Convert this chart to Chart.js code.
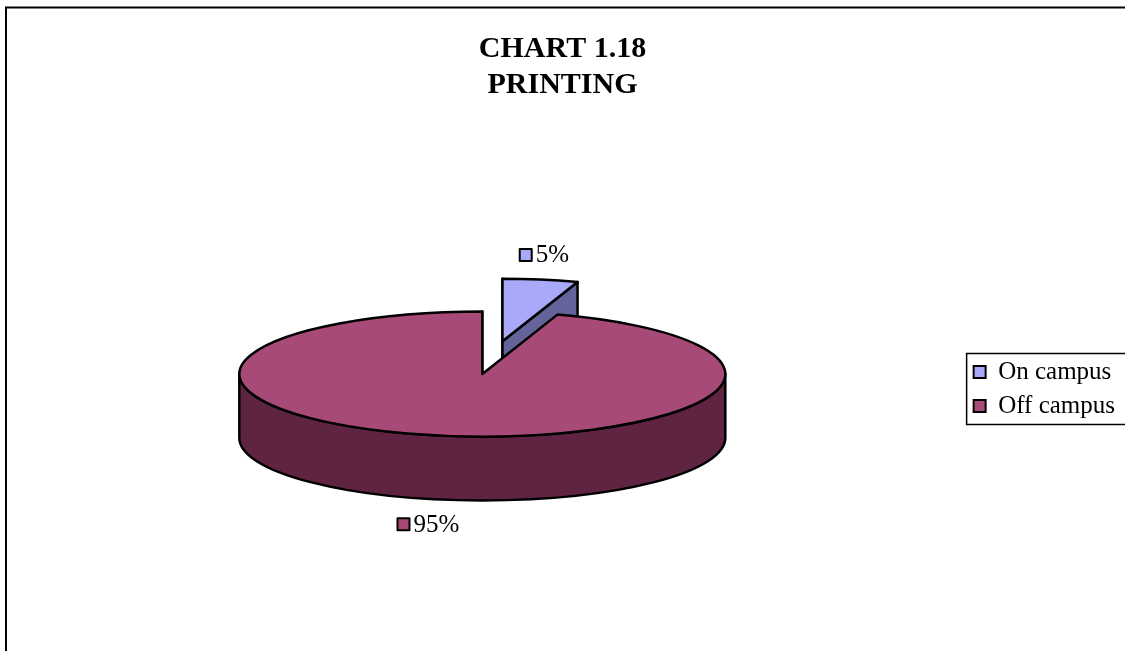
<!DOCTYPE html>
<html>
<head>
<meta charset="utf-8">
<script src="https://cdn.jsdelivr.net/npm/chart.js@4.4.1/dist/chart.umd.min.js"></script>
<style>
  body { margin: 0; background: #fff; }
  #wrap { width: 1125px; height: 651px; position: relative; }
</style>
</head>
<body>
<div id="wrap"><canvas id="chartPie"></canvas></div>
<script>
// data
const categories = ["On campus", "Off campus"];
const shares = [5, 95];

const topColors = ["#a9a9f9", "#a84a78"];
const sideColors = ["#64649a", "#5f2442"];

// 3d look: squashed pie with a wall, first slice pulled out
const pie3d = {
  id: "pie3d",
  beforeDraw(chart) {
    const ctx = chart.ctx;
    ctx.save();
    ctx.strokeStyle = "#000";
    ctx.lineWidth = 2;
    ctx.strokeRect(6, 7.5, 1200, 700);
    ctx.restore();
  },
  beforeDatasetsDraw(chart, args, opts) {
    const ctx = chart.ctx;
    const meta = chart.getDatasetMeta(0);
    const k = opts.tilt;
    const D = opts.depth;
    const shapes = meta.data.map((el, i) => {
      const s = el.startAngle, e = el.endAngle, R = el.outerRadius;
      const mid = (s + e) / 2;
      const ex = (opts.explode[i] || 0) * R;
      return {
        i, s, e, R, mid,
        cx: el.x + ex * Math.cos(mid),
        cy: el.y + ex * k * Math.sin(mid)
      };
    });
    // back slices first
    shapes.sort((a, b) => Math.sin(a.mid) - Math.sin(b.mid));

    ctx.save();
    ctx.lineWidth = 2.5;
    ctx.strokeStyle = "#000";
    ctx.lineJoin = "round";
    shapes.forEach(p => {
      const face = (a) => {
        const px = p.cx + p.R * Math.cos(a);
        const py = p.cy + k * p.R * Math.sin(a);
        ctx.beginPath();
        ctx.moveTo(p.cx, p.cy);
        ctx.lineTo(px, py);
        ctx.lineTo(px, py + D);
        ctx.lineTo(p.cx, p.cy + D);
        ctx.closePath();
        ctx.fillStyle = sideColors[p.i];
        ctx.fill();
        ctx.stroke();
      };
      if (-Math.cos(p.s) >= -1e-6) face(p.s);
      if (Math.cos(p.e) >= -1e-6) face(p.e);

      // front wall
      [-2 * Math.PI, 0, 2 * Math.PI].forEach(sh => {
        const a0 = Math.max(p.s, sh), b0 = Math.min(p.e, sh + Math.PI);
        if (a0 >= b0) return;
        ctx.beginPath();
        ctx.ellipse(p.cx, p.cy, p.R, k * p.R, 0, a0, b0, false);
        ctx.ellipse(p.cx, p.cy + D, p.R, k * p.R, 0, b0, a0, true);
        ctx.closePath();
        ctx.fillStyle = sideColors[p.i];
        ctx.fill();
        ctx.stroke();
      });

      // top
      ctx.beginPath();
      ctx.moveTo(p.cx, p.cy);
      ctx.ellipse(p.cx, p.cy, p.R, k * p.R, 0, p.s, p.e, false);
      ctx.closePath();
      ctx.fillStyle = topColors[p.i];
      ctx.fill();
      ctx.stroke();
    });

    // percentage labels with a key square
    const total = shares.reduce((a, b) => a + b, 0);
    ctx.lineWidth = 2;
    ctx.font = "25px 'Liberation Serif'";
    ctx.textBaseline = "middle";
    ctx.textAlign = "left";
    shapes.forEach(p => {
      const c = Math.cos(p.mid), sn = Math.sin(p.mid);
      const ex = p.cx + p.R * c;
      const ey = p.cy + k * p.R * sn + (sn > 0 ? D : 0);
      const ax = ex + 25 * c + opts.labelShift * Math.sign(c) * (sn > 0 ? 1 : 0);
      const ay = ey + 25 * sn;
      const txt = Math.round(shares[p.i] / total * 100) + "%";
      const w = 12 + 4 + ctx.measureText(txt).width;
      const x0 = ax - w / 2;
      ctx.fillStyle = topColors[p.i];
      ctx.fillRect(x0, ay - 6, 12, 12);
      ctx.strokeRect(x0, ay - 6, 12, 12);
      ctx.fillStyle = "#000";
      ctx.fillText(txt, x0 + 16, ay + 1);
    });
    ctx.restore();
    return false;
  },
  afterDraw(chart) {
    const hb = chart.legend && chart.legend.legendHitBoxes;
    if (!hb || !hb.length) return;
    const ctx = chart.ctx;
    const last = hb[hb.length - 1];
    ctx.save();
    ctx.strokeStyle = "#000";
    ctx.lineWidth = 1.5;
    const y0 = hb[0].top - 6;
    ctx.strokeRect(hb[0].left - 7, y0, 400, last.top + last.height + 6 - y0);
    ctx.restore();
  }
};

const dataPie = {
  labels: categories,
  datasets: [
    {
      data: shares,
      backgroundColor: topColors,
      borderColor: "#000",
      borderWidth: 2,
    },
  ],
};

const configPie = {
  type: "pie",
  data: dataPie,
  plugins: [pie3d],
  options: {
    responsive: true,
    maintainAspectRatio: false,
    animation: false,
    radius: 243,
    layout: { padding: { bottom: 12 } },
    plugins: {
      tooltip: { enabled: false },
      title: {
        display: true,
        text: ["CHART 1.18", "PRINTING"],
        color: "#000",
        font: { family: "'Liberation Serif'", size: 30, weight: "bold" },
        padding: { top: 31, bottom: 6 },
      },
      legend: {
        position: "right",
        fullSize: false,
        title: { display: true, text: "", font: { size: 20 }, padding: 3 },
        labels: {
          color: "#000",
          boxWidth: 12,
          boxHeight: 12,
          padding: 9,
          font: { family: "'Liberation Serif'", size: 25 },
        },
      },
      pie3d: { tilt: 0.257, depth: 64, explode: [0.53, 0], labelShift: 12 },
    },
  },
};

var chartPie = new Chart(document.getElementById("chartPie"), configPie);
</script>
</body>
</html>
